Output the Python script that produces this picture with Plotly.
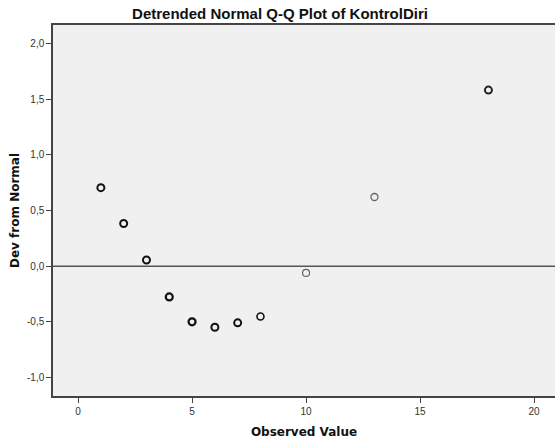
import plotly.graph_objects as go

observed = [1, 2, 3, 4, 5, 6, 7, 8, 10, 13, 18]
dev_from_normal = [0.705, 0.383, 0.056, -0.275, -0.499, -0.547, -0.508, -0.451, -0.06, 0.621, 1.58]
point_color = ["#111111"] * 8 + ["#666666", "#666666", "#222222"]
point_width = [2, 2, 2, 2.2, 2.2, 2, 2, 1.6, 1.2, 1.3, 2]

x_ticks = [0, 5, 10, 15, 20]
x_ticklabels = ["0", "5", "10", "15", "20"]
y_ticks = [-1.0, -0.5, 0.0, 0.5, 1.0, 1.5, 2.0]
y_ticklabels = ["-1,0", "-0,5", "0,0", "0,5", "1,0", "1,5", "2,0"]

W, H = 555, 442

fig = go.Figure()
fig.add_trace(go.Scatter(
    x=observed, y=dev_from_normal, mode="markers",
    marker=dict(symbol="circle-open", size=7, color=point_color,
                line=dict(width=point_width, color=point_color)),
    showlegend=False, hoverinfo="x+y",
))
fig.add_hline(y=0, line=dict(color="#555555", width=1.5))

fig.update_layout(
    width=W, height=H,
    margin=dict(l=53, r=0, t=25, b=46),
    paper_bgcolor="white", plot_bgcolor="#F0F0F0",
    font=dict(family="Liberation Sans, Arial, sans-serif", color="#222222"),
    title=dict(text="<b>Detrended Normal Q-Q Plot of KontrolDiri</b>", x=280/W, xanchor="center",
               y=1 - 13.5/H, yanchor="middle",
               font=dict(family="Liberation Sans, Arial, sans-serif", size=15, color="#111111")),
)
fig.update_xaxes(
    range=[-1.10, 20.92], tickvals=x_ticks, ticktext=x_ticklabels,
    showgrid=False, zeroline=False, showline=True, linecolor="#444444", linewidth=1.5,
    mirror=True, ticks="outside", ticklen=5, tickcolor="#444444", tickwidth=1,
    tickfont=dict(size=10, color="#333333"),
    title=dict(text="<b>Observed Value</b>", standoff=12,
               font=dict(family="DejaVu Sans, sans-serif", size=12, color="#111111")),
)
fig.update_yaxes(
    range=[-1.164, 2.164], tickvals=y_ticks, ticktext=y_ticklabels,
    showgrid=False, zeroline=False, showline=True, linecolor="#444444", linewidth=1.5,
    ticks="outside", ticklen=5, tickcolor="#444444", tickwidth=1,
    tickfont=dict(size=10, color="#333333"),
    title=dict(text="<b>Dev from Normal</b>", standoff=5,
               font=dict(family="DejaVu Sans, sans-serif", size=12, color="#111111")),
)

fig.write_html("out.html", config={"displayModeBar": False},
               post_script="document.body.style.margin='0';")
